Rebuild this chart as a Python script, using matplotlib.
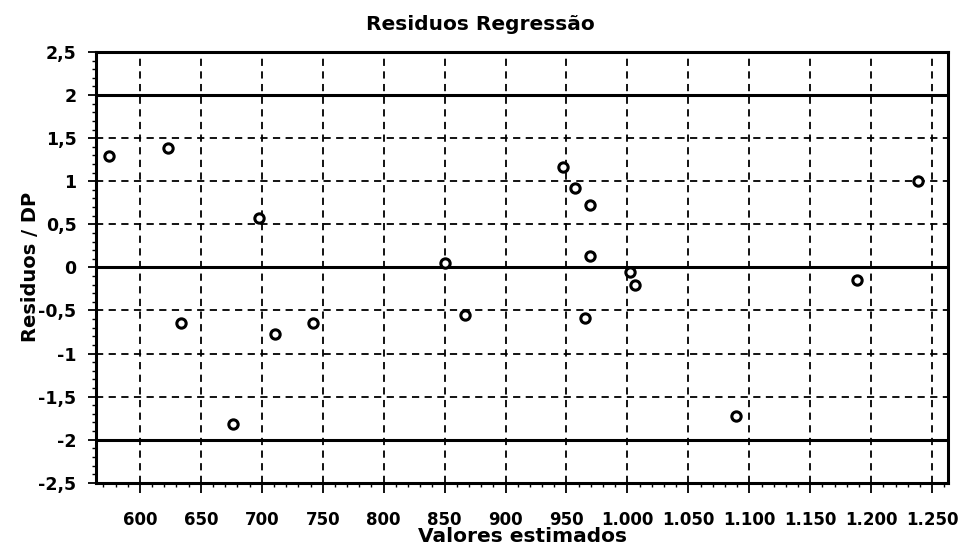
import matplotlib
matplotlib.use("Agg")
import matplotlib.pyplot as plt
from matplotlib.ticker import MultipleLocator, FuncFormatter

plt.rcParams['font.family'] = ['DejaVu Sans']

valores_estimados = [575, 623, 634, 676, 698, 711, 742, 850, 867, 947, 957,
                     969, 969, 965, 1002, 1006, 1089, 1188, 1238]
residuos_dp = [1.29, 1.38, -0.65, -1.82, 0.57, -0.77, -0.65, 0.05, -0.55,
               1.17, 0.92, 0.72, 0.13, -0.59, -0.05, -0.20, -1.73, -0.15, 1.00]
limites = [-2, 0, 2]

fig = plt.figure(figsize=(9.6, 5.53), dpi=100)
ax = fig.add_axes([0.100, 0.127, 0.8875, 0.779])

ax.set_xlim(564, 1263)
ax.set_ylim(-2.5, 2.5)

ax.xaxis.set_major_locator(MultipleLocator(50))
ax.xaxis.set_minor_locator(MultipleLocator(10))
ax.yaxis.set_major_locator(MultipleLocator(0.5))
ax.yaxis.set_minor_locator(MultipleLocator(0.1))

def fmt_x(v, pos):
    return f"{int(round(v)):,}".replace(",", ".")

def fmt_y(v, pos):
    if abs(v - round(v)) < 1e-9:
        return f"{int(round(v))}"
    return f"{v:.1f}".replace(".", ",")

ax.xaxis.set_major_formatter(FuncFormatter(fmt_x))
ax.yaxis.set_major_formatter(FuncFormatter(fmt_y))

ax.grid(True, which='major', color='black', linestyle=(0, (4, 3)), linewidth=1.3)
for y in limites:
    ax.axhline(y, color='black', linewidth=2.2, zorder=3)

ax.scatter(valores_estimados, residuos_dp, s=45, facecolors='white',
           edgecolors='black', linewidths=2.2, zorder=4)

for sp in ax.spines.values():
    sp.set_linewidth(2.2)

ax.tick_params(axis='x', which='major', length=7, width=1.3, labelsize=12, direction='out', pad=13)
ax.tick_params(axis='y', which='major', length=6, width=1.3, labelsize=12.5, direction='out', pad=8)
ax.tick_params(axis='both', which='minor', length=3, width=1.0, direction='out')
for lab in ax.get_xticklabels() + ax.get_yticklabels():
    lab.set_fontweight('bold')

fig.text(0.5, 1 - 25 / 553, "Residuos Regressão", fontsize=14.5, fontweight='bold',
         ha='center', va='center')
ax.set_xlabel("Valores estimados", fontsize=14.5, fontweight='bold', labelpad=-1)
ax.set_ylabel("Residuos / DP", fontsize=14, fontweight='bold', labelpad=-1)

fig.savefig("out.png", dpi=100)
